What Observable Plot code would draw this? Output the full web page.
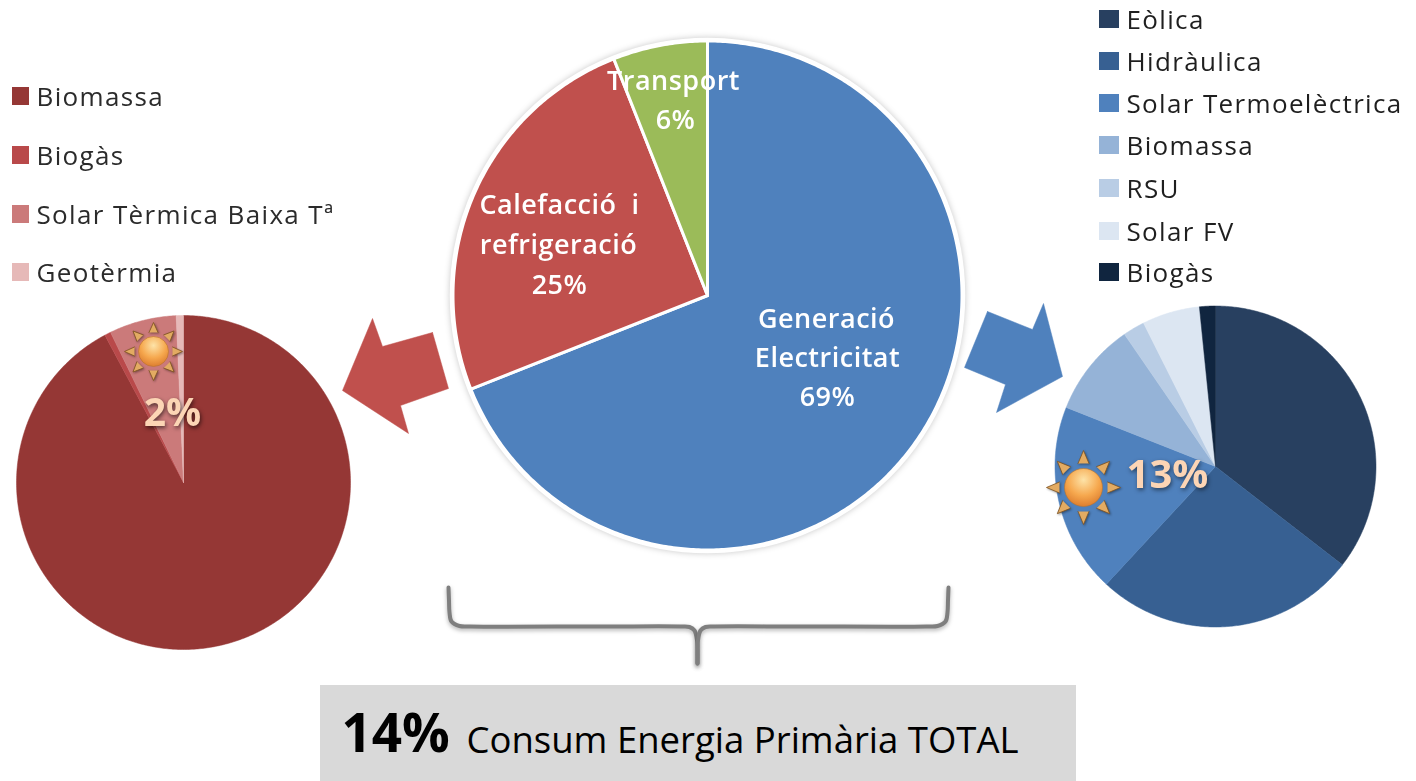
<!DOCTYPE html>
<html><head><meta charset="utf-8">
<script src="https://cdn.jsdelivr.net/npm/d3@7"></script>
<script src="https://cdn.jsdelivr.net/npm/@observablehq/plot@0.6"></script>
<style>
html,body{margin:0;padding:0;background:#fff;overflow:hidden}
svg{display:block}
.leg text{letter-spacing:1.35px}
.lab text{letter-spacing:.5px}
</style></head><body><div id="c"></div>
<script>
// Central pie
const useNames = ["Generació Electricitat","Calefacció i refrigeració","Transport"];
const useValues = [69,25,6];
const useColors = ["#4f81bd","#c0504d","#9bbb59"];
// Left pie (heat)
const heatNames = ["Biomassa","Biogàs","Solar Tèrmica Baixa Tª","Geotèrmia"];
const heatValues = [92.2,0.6,6.5,0.7];
const heatColors = ["#953735","#b9494a","#cb7a7a","#e6b9b8"];
// Right pie (electricity)
const elecNames = ["Eòlica","Hidràulica","Solar Termoelèctrica","Biomassa","RSU","Solar FV","Biogàs"];
const elecValues = [35.5,26.4,19.1,9.4,2.2,5.8,1.6];
const elecColors = ["#284060","#376092","#4f81bd","#95b3d7","#b9cde5","#dce6f2","#10253f"];

// Where each pie sits in the picture's coordinate domain
const pies = {
  use:{cx:707,cy:295,r:254.5},
  heat:{cx:183,cy:482,r:167},
  elec:{cx:1215,cy:466,r:160.5}
};
function outlines(key,names,values,colors){
  const {cx,cy,r}=pies[key], total=d3.sum(values), pts=[];
  let a0=0;
  values.forEach((v,i)=>{
    const a1=a0+v/total*2*Math.PI, id=key+i;
    pts.push({id,color:colors[i],x:cx,y:cy});
    const n=Math.max(2,Math.ceil((a1-a0)/0.01));
    for(let k=0;k<=n;k++){const a=a0+(a1-a0)*k/n;
      pts.push({id,color:colors[i],x:cx+r*Math.sin(a),y:cy-r*Math.cos(a)});}
    pts.push({id,color:colors[i],x:cx,y:cy});
    a0=a1;
  });
  return pts;
}
const sliceMark=(pts,stroke,sw)=>Plot.line(pts,{x:"x",y:"y",z:"id",curve:"linear",
  fill:d=>d.color,stroke:stroke||(d=>d.color),strokeWidth:sw||.5,strokeLinejoin:"round"});

// Legends
const heatLegendY=[96,155,214,272];
const elecLegendY=[19,61,103,145,188,231,272];
const legendL=heatNames.map((n,i)=>({n,c:heatColors[i],y:heatLegendY[i]}));
const legendR=elecNames.map((n,i)=>({n,c:elecColors[i],y:elecLegendY[i]}));

// Labels in the central pie
const useLabels=[
 {t:"Generació",x:826,y:319},{t:"Electricitat",x:827,y:358},{t:"69%",x:827,y:397},
 {t:"Calefacció  i",x:559,y:205},{t:"refrigeració",x:558,y:245},{t:"25%",x:559,y:285},
 {t:"Transport",x:673,y:81},{t:"6%",x:675,y:120}];

// Annotation shapes
const redArrow=[[432,332],[448,388],[400,405],[408,433],[342,390],[372,318],[382,346],[432,332]].map(([x,y])=>({x,y}));
const blueArrow=[[987,311],[1032,329],[1043,303],[1062,376],[996,412],[1005,384],[964,367],[987,311]].map(([x,y])=>({x,y}));
const braceL=[[448,587],[448.5,600],[449,612],[451,621],[459,625.5],[470,626],[600,626],[680,626],[689,626.5],[694,630],[696.5,640],[697,663]].map(([x,y])=>({x,y}));
const braceR=[[948,587],[947.5,600],[947,612],[945,621],[937,625.5],[926,626],[800,626],[714,626],[705,626.5],[700,630],[697.5,640],[697,663]].map(([x,y])=>({x,y}));

// Sun icons
const suns=[{x:153,y:351,r:15,l:29},{x:1083,y:487,r:19,l:37}];
const rays=suns.flatMap(s=>d3.range(8).map(i=>({x:s.x,y:s.y,rot:i*45,r:s.r,l:s.l})));

const font="'Open Sans',sans-serif";
const soft="blur(.45px)";
const defs=()=>{
  const d=d3.create("svg:defs");
  const g=d.append("radialGradient").attr("id","sunfill").attr("cx","50%").attr("cy","30%").attr("r","75%");
  g.append("stop").attr("offset","0%").attr("stop-color","#fde3a8");
  g.append("stop").attr("offset","55%").attr("stop-color","#f6a84e");
  g.append("stop").attr("offset","100%").attr("stop-color","#d9772a");
  return d.node();
};
const sunMarks=[
  Plot.vector(rays.filter(d=>d.r===15),{x:d=>d.x+(d.r+4)*Math.sin(d.rot*Math.PI/180),y:d=>d.y-(d.r+4)*Math.cos(d.rot*Math.PI/180),
    rotate:"rot",length:10,anchor:"start",shape:"spike",r:4.5,fill:"#e3ab62",stroke:"#7d5220",strokeWidth:.8,imageFilter:"drop-shadow(1px 1px 1px rgba(0,0,0,.4))"}),
  Plot.vector(rays.filter(d=>d.r===19),{x:d=>d.x+(d.r+5)*Math.sin(d.rot*Math.PI/180),y:d=>d.y-(d.r+5)*Math.cos(d.rot*Math.PI/180),
    rotate:"rot",length:13,anchor:"start",shape:"spike",r:5.5,fill:"#e3ab62",stroke:"#7d5220",strokeWidth:.8,imageFilter:"drop-shadow(1px 1px 1px rgba(0,0,0,.4))"}),
  Plot.dot(suns.slice(0,1),{x:"x",y:"y",r:15,fill:"url(#sunfill)",stroke:"#b8742c",strokeWidth:.6}),
  Plot.dot(suns.slice(1),{x:"x",y:"y",r:19,fill:"url(#sunfill)",stroke:"#b8742c",strokeWidth:.6})
];

const chart=Plot.plot({
  width:1416,height:781,margin:0,
  style:{background:"#fff",fontFamily:font,maxWidth:"none"},
  x:{domain:[0,1416],range:[0,1416],axis:null},
  y:{domain:[0,781],range:[0,781],axis:null},
  marks:[
    defs,
    // grey box
    Plot.rect([{x1:320,x2:1076,y1:685,y2:781}],{x1:"x1",x2:"x2",y1:"y1",y2:"y2",fill:"#d9d9d9"}),
    // central pie ring
    Plot.dot([pies.use],{x:"cx",y:"cy",r:257,fill:"#fff",stroke:"#fff",imageFilter:"drop-shadow(0 0 3px rgba(0,0,0,.22))"}),
    sliceMark(outlines("use",useNames,useValues,useColors),"#fff",3),
    sliceMark(outlines("heat",heatNames,heatValues,heatColors)),
    sliceMark(outlines("elec",elecNames,elecValues,elecColors)),
    // arrows
    Plot.line(redArrow,{x:"x",y:"y",fill:"#c0504d",stroke:"#c0504d",strokeWidth:.5}),
    Plot.line(blueArrow,{x:"x",y:"y",fill:"#4f81bd",stroke:"#4f81bd",strokeWidth:.5}),
    // brace
    ...[braceL,braceR].map(b=>Plot.line(b,{x:"x",y:"y",curve:"catmull-rom",stroke:"#7f7f7f",strokeWidth:4,imageFilter:"drop-shadow(0 2px 2px rgba(0,0,0,.3))"})),
    // legends
    Plot.rect(legendL,{x1:12,x2:29,y1:d=>d.y-9,y2:d=>d.y+9,fill:d=>d.c}),
    Plot.rect(legendR,{x1:1099,x2:1119,y1:d=>d.y-9,y2:d=>d.y+9,fill:d=>d.c}),
    Plot.text(legendL,{x:36,y:"y",dy:1,text:"n",textAnchor:"start",fontSize:26,fill:"#2b2b2b",className:"leg",imageFilter:soft}),
    Plot.text(legendR,{x:1126,y:"y",dy:1,text:"n",textAnchor:"start",fontSize:26,fill:"#1f1f1f",className:"leg",imageFilter:soft}),
    // labels
    Plot.text(useLabels,{x:"x",y:"y",text:"t",fontSize:27,fontWeight:600,fill:"#fff",className:"lab",imageFilter:soft}),
    ...sunMarks,
    Plot.text([{t:"2%",x:172,y:413}],{x:"x",y:"y",text:"t",fontSize:39,fontWeight:700,fill:"#fcd5b5",imageFilter:"drop-shadow(1px 2px 2px rgba(0,0,0,.6))"}),
    Plot.text([{t:"13%",x:1167,y:475}],{x:"x",y:"y",text:"t",fontSize:40,fontWeight:700,fill:"#fcd5b5",imageFilter:"drop-shadow(1px 2px 2px rgba(0,0,0,.5))"}),
    Plot.text([{t:"14%",x:341,y:735}],{x:"x",y:"y",text:"t",textAnchor:"start",fontSize:53,fontWeight:700,fill:"#000"}),
    Plot.text([{t:"Consum Energia Primària TOTAL",x:466,y:741}],{x:"x",y:"y",text:"t",textAnchor:"start",fontSize:36.5,fill:"#000"})
  ]
});
document.getElementById("c").appendChild(chart);
</script></body></html>
